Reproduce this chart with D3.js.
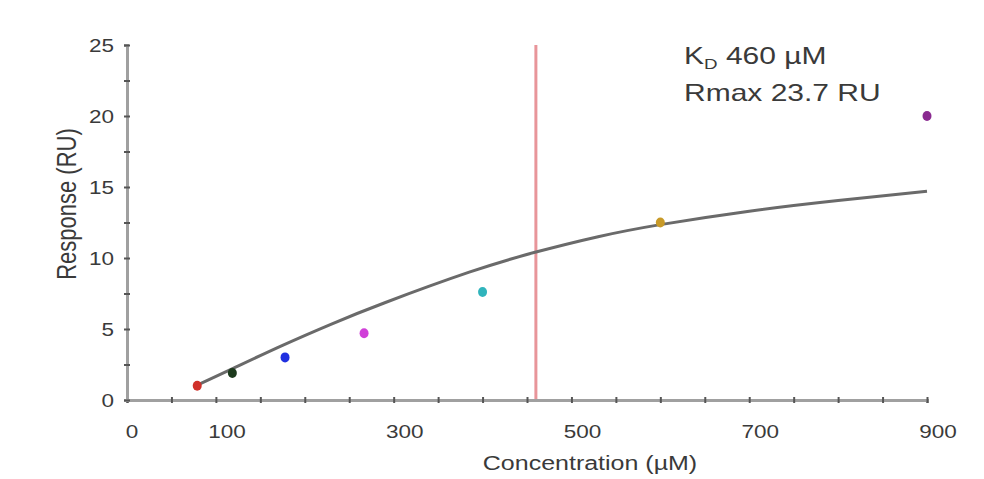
<!DOCTYPE html>
<html>
<head>
<meta charset="utf-8">
<script src="https://cdn.jsdelivr.net/npm/d3@7"></script>
<style>
body { margin: 0; background: #fff; }
text { font-family: "Liberation Sans", Arial, sans-serif; fill: #3a3a3a; }
</style>
</head>
<body>
<script>
// measured points (concentration in µM, response in RU)
var conc = [79, 118.5, 177.8, 266.7, 400, 600, 900];
var resp = [1.0, 1.9, 3.0, 4.7, 7.6, 12.5, 20.0];
var dotColors = ["#d0302a", "#1c3a1c", "#2030e0", "#d040d8", "#30b4bc", "#c89a28", "#8a2a90"];

// fitted curve
var fitConc = [79, 120, 175, 230, 290, 385, 459, 530, 600, 700, 800, 900];
var fitResp = [1.05, 2.25, 3.85, 5.35, 6.85, 9.0, 10.4, 11.5, 12.35, 13.3, 14.05, 14.7];

var kd = 460;
var xTicks = d3.range(0, 901, 50);
var xLabels = [0, 100, 300, 500, 700, 900];
var yTicks = d3.range(0, 25.1, 2.5);
var yLabels = [0, 5, 10, 15, 20, 25];

var width = 984, height = 479;
var sx = 1.25; // picture is stretched sideways

var svg = d3.select("body").append("svg")
  .attr("width", width)
  .attr("height", height);

var x = d3.scaleLinear().domain([0, 900]).range([127, 927]);
var y = d3.scaleLinear().domain([0, 25]).range([400, 45]);

// KD marker
svg.append("line")
  .attr("x1", x(kd)).attr("x2", x(kd))
  .attr("y1", y(25)).attr("y2", y(0))
  .attr("stroke", "#e8959a")
  .attr("stroke-width", 3);

// axes
var xAxis = svg.append("g")
  .attr("transform", "translate(0," + y(0) + ")")
  .call(d3.axisBottom(x).tickValues(xTicks).tickSize(3).tickFormat(""));
var yAxis = svg.append("g")
  .attr("transform", "translate(" + x(0) + ",0)")
  .call(d3.axisLeft(y).tickValues(yTicks).tickSize(3).tickFormat(""));

[xAxis, yAxis].forEach(function(g) {
  g.select(".domain").attr("stroke", "#a0a0a0").attr("stroke-width", 3);
  g.selectAll(".tick line").attr("stroke", "#555").attr("stroke-width", 2);
});
xAxis.selectAll(".tick line").attr("y1", -3);
yAxis.selectAll(".tick line").attr("x1", 3);

// tick labels (sit a little right of their ticks, as in the source)
svg.selectAll("text.xl").data(xLabels).enter().append("text")
  .attr("class", "xl")
  .attr("transform", function(d) {
    var off = String(d).length > 1 ? 11 : 5;
    return "translate(" + (x(d) + off) + ",438) scale(" + sx + ",1)";
  })
  .attr("text-anchor", "middle")
  .style("font-size", "18px")
  .text(function(d) { return d; });

svg.selectAll("text.yl").data(yLabels).enter().append("text")
  .attr("class", "yl")
  .attr("transform", function(d) { return "translate(114," + (y(d) + 7) + ") scale(" + sx + ",1)"; })
  .attr("text-anchor", "end")
  .style("font-size", "18px")
  .text(function(d) { return d; });

// axis titles
svg.append("text")
  .attr("transform", "translate(590,470) scale(" + sx + ",1)")
  .attr("text-anchor", "middle")
  .style("font-size", "20px")
  .text("Concentration (µM)");

svg.append("text")
  .attr("transform", "translate(76,204) scale(" + sx + ",1) rotate(-90)")
  .attr("text-anchor", "middle")
  .style("font-size", "22px")
  .text("Response (RU)");

// fit curve
var line = d3.line()
  .x(function(d, i) { return x(fitConc[i]); })
  .y(function(d) { return y(d); })
  .curve(d3.curveNatural);

svg.append("path")
  .datum(fitResp)
  .attr("d", line)
  .attr("fill", "none")
  .attr("stroke", "#6a6a6a")
  .attr("stroke-width", 3);

// data points
svg.selectAll("ellipse.pt").data(resp).enter().append("ellipse")
  .attr("class", "pt")
  .attr("cx", function(d, i) { return x(conc[i]); })
  .attr("cy", function(d) { return y(d); })
  .attr("rx", 4.5)
  .attr("ry", 5)
  .attr("fill", function(d, i) { return dotColors[i]; });

// annotation
var t1 = svg.append("text")
  .attr("transform", "translate(684,64) scale(" + sx + ",1)")
  .style("font-size", "24px");
t1.append("tspan").text("K");
t1.append("tspan").attr("dy", 5).style("font-size", "15px").text("D");
t1.append("tspan").attr("dy", -5).text(" 460 µM");

svg.append("text")
  .attr("transform", "translate(684,101) scale(" + sx + ",1)")
  .style("font-size", "24px")
  .text("Rmax 23.7 RU");
</script>
</body>
</html>
